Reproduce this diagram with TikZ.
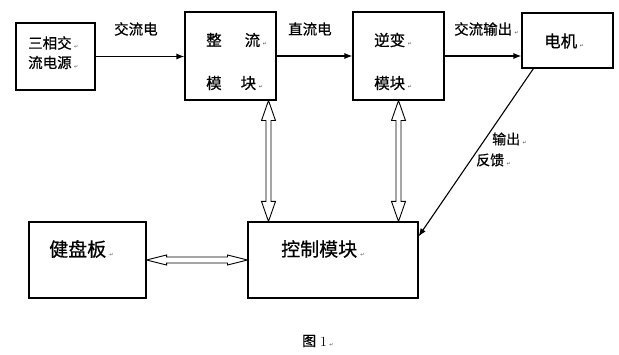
\documentclass[tikz,border=0pt]{standalone}
\usepackage{fontspec}
\newfontfamily\cjk[FakeBold=0.6]{Noto Sans CJK SC}
\newfontfamily\retf{DejaVu Sans}
\usetikzlibrary{arrows.meta,calc}
\newcommand\ret{\,{\retf\fontsize{5}{5}\selectfont\textcolor{black!70}{↵}}}
\newcommand\fs[1]{\fontsize{#1}{#1}\selectfont}
\newcommand\vdbl[2]{\draw[hollow] let \p1=(#1),\p2=(#2) in (\p1) -- (\x1+7pt,\y1-20pt) -- (\x1+2.5pt,\y1-20pt) -- (\x1+2.5pt,\y2+20pt) -- (\x1+7pt,\y2+20pt) -- (\p2) -- (\x1-7pt,\y2+20pt) -- (\x1-2.5pt,\y2+20pt) -- (\x1-2.5pt,\y1-20pt) -- (\x1-7pt,\y1-20pt) -- cycle;}
\newcommand\hdbl[2]{\draw[hollow] let \p1=(#1),\p2=(#2) in (\p1) -- (\x1+20pt,\y1+5pt) -- (\x1+20pt,\y1+3pt) -- (\x2-20pt,\y1+3pt) -- (\x2-20pt,\y1+5pt) -- (\p2) -- (\x2-20pt,\y1-5pt) -- (\x2-20pt,\y1-3pt) -- (\x1+20pt,\y1-3pt) -- (\x1+20pt,\y1-5pt) -- cycle;}
\tikzset{
 box/.style={draw, line width=1.1pt, inner sep=0pt},
 lbl/.style={anchor=west, inner sep=0pt, font=\cjk\fs{14.5}},
 flow/.style={-{Latex[length=8pt,width=6pt]}, line width=1.1pt},
 hollow/.style={draw, line width=0.9pt, fill=white}
}
\begin{document}
\begin{tikzpicture}[x=1pt,y=-1pt]
\useasboundingbox (0,0) rectangle (619,355);
% boxes
\node[box, minimum width=79pt, minimum height=67pt] (src) at (55.5,56.5) {};
\node[box, minimum width=91pt, minimum height=88pt] (rect) at (230.5,56) {};
\node[box, minimum width=91pt, minimum height=88pt] (inv) at (398.5,56) {};
\node[box, minimum width=91pt, minimum height=55pt] (motor) at (567.5,40.5) {};
\node[box, minimum width=117pt, minimum height=76pt] (kbd) at (87.5,260) {};
\node[box, minimum width=170pt, minimum height=76pt] (ctrl) at (333,260) {};
% texts
\node[lbl] (s1) at (28,43) {三相交\ret};
\node[lbl] (s2) at (28,62.5) {流电源\ret};
\node[lbl, font=\cjk\fs{15.5}] (r1) at (206,40) {整\hspace{23pt}流\ret};
\node[lbl, font=\cjk\fs{15.5}] (r2) at (206,83) {模\hspace{19pt}块\ret};
\node[lbl, font=\cjk\fs{15.5}] (i1) at (374,40) {逆变\ret};
\node[lbl, font=\cjk\fs{15.5}] (i2) at (374,83) {模块\ret};
\node[lbl, font=\cjk\fs{16.5}] (m1) at (544,41) {电机\ret};
\node[lbl, font=\cjk\fs{19}] (k1) at (49,249) {健盘板\ret};
\node[lbl, font=\cjk\fs{19}] (c1) at (281,249) {控制模块\ret};
\node[lbl] (t1) at (114,29) {交流电};
\node[lbl] (t2) at (288,29) {直流电};
\node[lbl] (t3) at (454,29) {交流输出\ret};
\node[lbl, font=\cjk\fs{14}] (f1) at (492,139) {输出\ret};
\node[lbl, font=\cjk\fs{14}] (f2) at (476,160) {反馈\ret};
\node[lbl, font=\fs{14}] (fig) at (302,341) {{\cjk 图}\hspace{4pt}1\ret};
% flow arrows
\draw[flow] (src.east) -- (src.east -| rect.west);
\draw[flow] (rect.east) -- (rect.east -| inv.west);
\draw[flow] (inv.east) -- (inv.east -| motor.west);
\coordinate (fbs) at ($(motor.south west)+(12,0)$);
\coordinate (fbe) at ($(ctrl.north east)+(0,15)$);
\draw[flow] (fbs) -- (fbe);
% double arrows
\coordinate (v1t) at ($(rect.south)+(38,0)$);
\coordinate (v1b) at (v1t |- ctrl.north);
\coordinate (v2t) at (inv.south);
\coordinate (v2b) at (v2t |- ctrl.north);
\vdbl{v1t}{v1b}
\vdbl{v2t}{v2b}
\hdbl{kbd.east}{ctrl.west}
\end{tikzpicture}
\end{document}
